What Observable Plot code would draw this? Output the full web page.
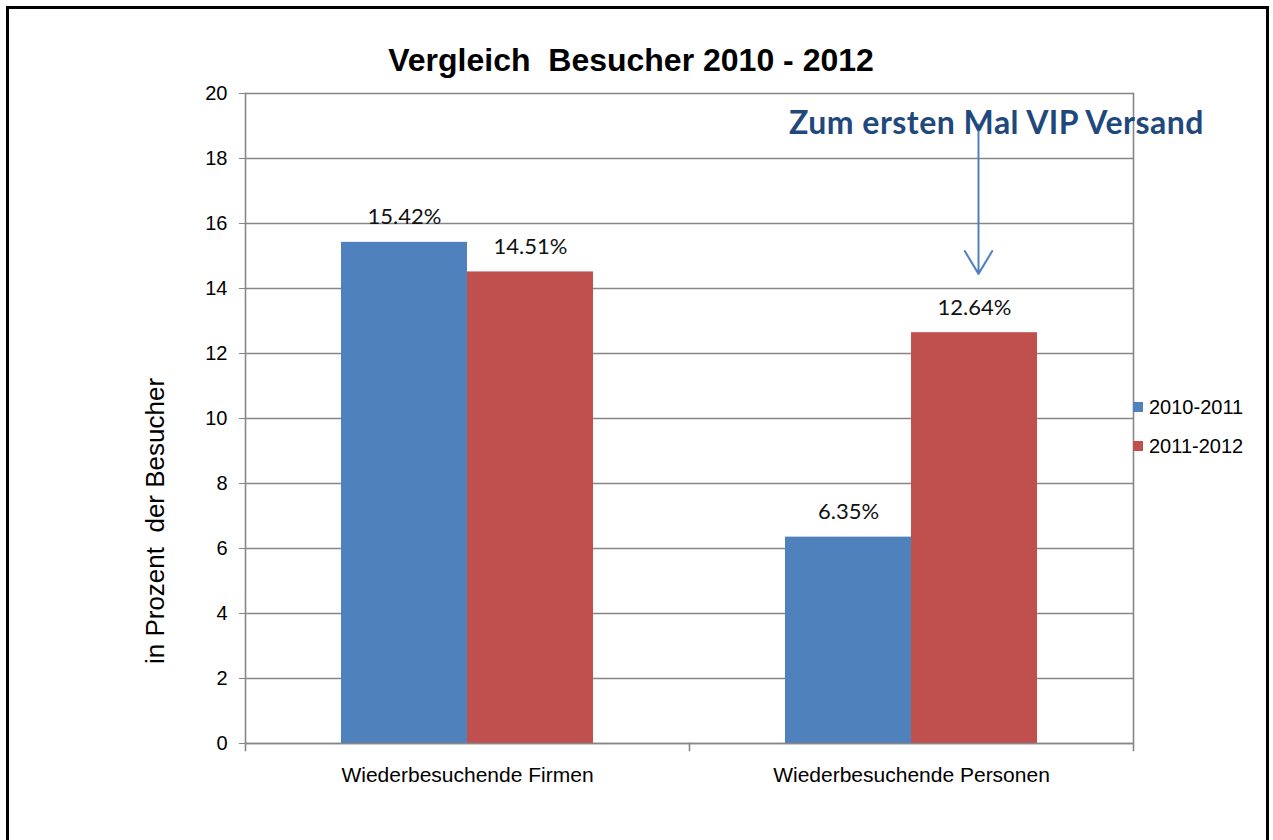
<!DOCTYPE html>
<html>
<head>
<meta charset="utf-8">
<script src="https://cdn.jsdelivr.net/npm/d3@7"></script>
<script src="https://cdn.jsdelivr.net/npm/@observablehq/plot@0.6"></script>
<style>
  html, body { margin: 0; padding: 0; background: #fff; overflow: hidden; }
  #wrap { position: relative; width: 1273px; height: 840px; }
  #chart { position: absolute; left: 0; top: 0; }
  #chart svg text.val { letter-spacing: 1px; }
  #border { position: absolute; left: 6px; top: 6px; width: 1263px; height: 900px; border: 3px solid #000; box-sizing: border-box; }
  #title { position: absolute; left: 0; top: 44px; width: 1262px; text-align: center; font: bold 32px/32px "Liberation Sans", Arial, sans-serif; white-space: pre; color: #000; }
  #ylabel { position: absolute; left: 155px; top: 521px; transform: translate(-50%, -50%) rotate(-90deg); font: 26px/26px "Liberation Sans", Arial, sans-serif; white-space: pre; color: #000; }
  .leg { position: absolute; left: 1133px; font: 20px/20px "Liberation Sans", Arial, sans-serif; color: #000; white-space: nowrap; }
  .leg span.sw { position: absolute; left: 0; top: 5px; width: 10px; height: 10px; }
  .leg span.tx { position: absolute; left: 16px; top: 0; }
</style>
</head>
<body>
<div id="wrap">
  <div id="border"></div>
  <div id="chart"></div>
  <div id="title"></div>
  <div id="ylabel"></div>
  <div id="legend"></div>
</div>
<script>
// ---- data ----
const categories = ["Wiederbesuchende Firmen", "Wiederbesuchende Personen"];
const series = ["2010-2011", "2011-2012"];
const values2010_2011 = [15.42, 6.35];
const values2011_2012 = [14.51, 12.64];
const colors = ["#4F81BD", "#C0504D"];
const yTicks = [0, 2, 4, 6, 8, 10, 12, 14, 16, 18, 20];
const titleText = "Vergleich  Besucher 2010 - 2012";
const yLabelText = "in Prozent  der Besucher";
// annotation pointing at the 2011-2012 bar of "Wiederbesuchende Personen"
const annotationText = ["Zum ersten Mal VIP Versand"];
const annotationCategory = ["Wiederbesuchende Personen"];
const annotationSeries = ["2011-2012"];
const annotationY = [19.08];
const arrowFrom = [19.05];
const arrowTo = [14.45];

// ---- tables built from the arrays ----
const data = [];
categories.forEach((c, i) => {
  data.push({category: c, series: series[0], value: values2010_2011[i]});
  data.push({category: c, series: series[1], value: values2011_2012[i]});
});
const notes = annotationText.map((t, i) => ({
  text: t, category: annotationCategory[i], series: annotationSeries[i],
  y: annotationY[i], from: arrowFrom[i], to: arrowTo[i]
}));

const gray = "#878787";

const chart = Plot.plot({
  width: 1273,
  height: 840,
  marginLeft: 245,
  marginRight: 140,
  marginTop: 93,
  marginBottom: 97,
  style: {fontFamily: "'Liberation Sans', Arial, sans-serif", color: "#000", background: "transparent", overflow: "visible"},
  fx: {domain: categories, padding: 0, label: null},
  x: {domain: series, paddingInner: 0, paddingOuter: 0.75, axis: null},
  y: {domain: [0, 20], label: null},
  color: {domain: series, range: colors},
  marks: [
    Plot.gridY(yTicks, {stroke: gray, strokeOpacity: 1, strokeWidth: 1.6}),
    Plot.barY(data, {fx: "category", x: "series", y: "value", fill: "series"}),
    Plot.ruleY([0], {stroke: gray, strokeWidth: 1.6}),
    Plot.frame({anchor: "left", facetAnchor: "left", stroke: gray, strokeWidth: 1.6, insetBottom: -7}),
    Plot.frame({anchor: "right", facetAnchor: "right", stroke: gray, strokeWidth: 1.6, insetBottom: -7}),
    Plot.frame({anchor: "left", facetAnchor: "right", stroke: gray, strokeWidth: 1.6, insetTop: 650, insetBottom: -7}),
    Plot.axisY({ticks: yTicks, tickSize: 6, tickPadding: 12, stroke: gray, fill: "#000", fontSize: 20, label: null}),
    Plot.axisFx({anchor: "bottom", tickSize: 0, tickPadding: 24, fontSize: 21, label: null, fill: "#000"}),
    Plot.text(data, {
      fx: "category", x: "series", y: "value",
      text: d => d.value.toFixed(2) + "%",
      dy: -25, fontSize: 22, fontFamily: "Lato, 'Open Sans', sans-serif", fill: "#111",
      className: "val"
    }),
    Plot.arrow(notes, {
      fx: "category", x1: "series", x2: "series", y1: "from", y2: "to",
      dx: 4, stroke: "#4F81BD", strokeWidth: 2, headLength: 20, headAngle: 62
    }),
    Plot.text(notes, {
      fx: "category", x: "series", y: "y", text: "text",
      dx: 22, fontSize: 32, fontWeight: "bold", fontFamily: "Lato, sans-serif", fill: "#1F497D",
      className: "note"
    })
  ]
});
document.getElementById("chart").appendChild(chart);
chart.querySelectorAll("g.note text").forEach(t => t.style.letterSpacing = "0.5px");

document.getElementById("title").textContent = titleText;
document.getElementById("ylabel").textContent = yLabelText;

const legendTops = [397, 436];
const legend = document.getElementById("legend");
series.forEach((s, i) => {
  const item = document.createElement("div");
  item.className = "leg";
  item.style.top = legendTops[i] + "px";
  item.innerHTML = `<span class="sw" style="background:${colors[i]}"></span><span class="tx">${s}</span>`;
  legend.appendChild(item);
});
</script>
</body>
</html>
